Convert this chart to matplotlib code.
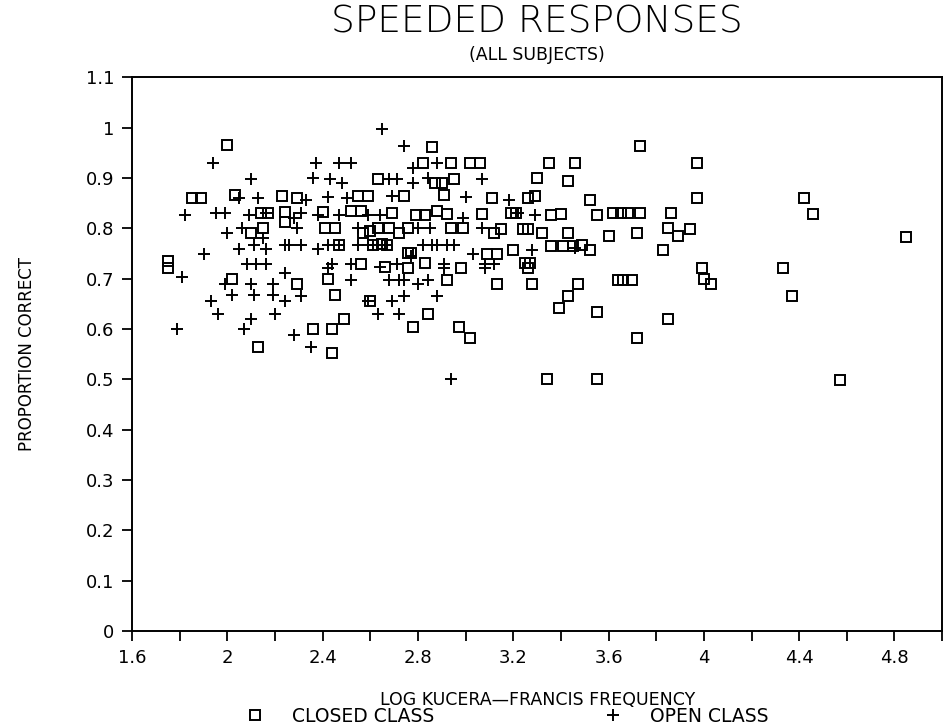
"""
Speeded responses: proportion correct vs log Kucera-Francis frequency.
"""

import matplotlib
matplotlib.use("Agg")
import matplotlib.pyplot as plt
from matplotlib.ticker import MultipleLocator, FuncFormatter

# closed class words (squares)
closed_x = [
    2.00, 1.85, 1.89, 2.03, 2.23, 2.29, 2.14, 2.17, 2.24, 2.24, 2.15, 2.10,
    1.75, 1.75, 2.02, 2.29, 2.36, 2.13,
    2.86, 2.82, 2.94, 3.02, 3.06, 2.63, 2.87, 2.90, 2.95, 2.55, 2.59, 2.74,
    2.91, 3.11, 2.40, 2.52, 2.56, 2.69, 2.79, 2.83, 2.88, 2.92, 3.07, 2.41,
    2.45, 2.57, 2.63, 2.68, 2.76, 2.94, 2.99, 3.12, 2.47, 2.61, 2.65, 2.67,
    2.76, 2.77, 3.09, 3.13, 2.56, 2.66, 2.76, 2.83, 2.98, 2.42, 2.92, 3.13,
    2.45, 2.60, 2.84, 2.49, 2.44, 2.78, 2.97, 3.02, 2.44, 2.60, 2.72,
    3.73, 3.35, 3.46, 3.30, 3.43, 3.26, 3.29, 3.52, 3.19, 3.21, 3.36, 3.40,
    3.55, 3.62, 3.65, 3.68, 3.73, 3.86, 3.15, 3.24, 3.26, 3.32, 3.43, 3.60,
    3.72, 3.20, 3.36, 3.41, 3.45, 3.49, 3.52, 3.83, 3.25, 3.27, 3.26, 3.28,
    3.47, 3.64, 3.66, 3.70, 3.43, 3.39, 3.55, 3.72, 3.34, 3.55,
    3.97, 3.97, 4.42, 4.46, 3.85, 3.89, 3.94, 4.85, 3.99, 4.00, 4.03, 4.33,
    4.37, 3.85, 4.57,
]
closed_y = [
    0.966, 0.861, 0.861, 0.867, 0.865, 0.861, 0.831, 0.831, 0.833, 0.813, 0.800, 0.790,
    0.722, 0.735, 0.700, 0.690, 0.599, 0.565,
    0.962, 0.930, 0.929, 0.929, 0.929, 0.897, 0.890, 0.889, 0.897, 0.865, 0.865, 0.865,
    0.867, 0.861, 0.833, 0.835, 0.835, 0.831, 0.827, 0.827, 0.835, 0.829, 0.829, 0.800,
    0.800, 0.790, 0.800, 0.800, 0.800, 0.800, 0.800, 0.790, 0.766, 0.766, 0.768, 0.766,
    0.750, 0.750, 0.748, 0.748, 0.730, 0.724, 0.722, 0.732, 0.722, 0.700, 0.698, 0.690,
    0.667, 0.655, 0.630, 0.619, 0.599, 0.603, 0.603, 0.583, 0.552, 0.795, 0.790,
    0.964, 0.929, 0.929, 0.899, 0.893, 0.861, 0.865, 0.857, 0.831, 0.831, 0.826, 0.829,
    0.827, 0.831, 0.831, 0.831, 0.831, 0.831, 0.798, 0.798, 0.798, 0.790, 0.790, 0.784,
    0.790, 0.756, 0.764, 0.764, 0.764, 0.766, 0.756, 0.756, 0.732, 0.732, 0.722, 0.690,
    0.690, 0.698, 0.698, 0.698, 0.665, 0.641, 0.633, 0.583, 0.500, 0.500,
    0.929, 0.861, 0.861, 0.829, 0.800, 0.784, 0.798, 0.782, 0.722, 0.700, 0.690, 0.722,
    0.665, 0.619, 0.498,
]

# open class words (plus signs)
open_x = [
    1.94, 2.37, 2.10, 2.36, 2.05, 2.13, 2.33, 1.82, 1.95, 1.99, 2.09, 2.16,
    2.28, 2.31, 2.38, 2.00, 2.06, 2.15, 2.29, 1.90, 2.05, 2.11, 2.16, 2.24,
    2.26, 2.31, 2.38, 1.81, 2.08, 2.12, 2.16, 2.24, 1.99, 2.10, 2.19, 1.93,
    1.96, 2.02, 2.11, 2.19, 2.24, 2.31, 2.20, 2.10, 1.79, 2.07, 2.28, 2.35,
    2.65, 2.74, 2.47, 2.52, 2.78, 2.88, 2.43, 2.48, 2.68, 2.71, 2.78, 2.84,
    3.07, 2.42, 2.50, 2.69, 3.00, 2.47, 2.59, 2.64, 2.99, 2.55, 2.80, 2.85,
    3.07, 2.42, 2.47, 2.55, 2.59, 2.61, 2.66, 2.82, 2.86, 2.88, 2.92, 2.95,
    2.77, 3.03, 3.08, 2.44, 2.42, 2.52, 2.64, 2.71, 2.91, 2.91, 2.52, 2.68,
    2.72, 2.74, 2.80, 2.84, 2.59, 2.63, 2.69, 2.74, 2.72, 2.88, 2.94,
    3.18, 3.22, 3.29, 3.28, 3.46, 3.08, 3.12,
]
open_y = [
    0.929, 0.929, 0.897, 0.899, 0.861, 0.861, 0.857, 0.827, 0.831, 0.831, 0.827, 0.831,
    0.820, 0.831, 0.827, 0.790, 0.800, 0.780, 0.800, 0.748, 0.758, 0.766, 0.758, 0.766,
    0.766, 0.766, 0.758, 0.703, 0.730, 0.730, 0.730, 0.712, 0.690, 0.690, 0.690, 0.655,
    0.630, 0.667, 0.667, 0.667, 0.655, 0.665, 0.630, 0.619, 0.599, 0.599, 0.589, 0.565,
    0.998, 0.964, 0.929, 0.929, 0.919, 0.930, 0.897, 0.889, 0.897, 0.897, 0.890, 0.899,
    0.897, 0.863, 0.861, 0.865, 0.863, 0.827, 0.827, 0.827, 0.820, 0.800, 0.800, 0.800,
    0.800, 0.766, 0.766, 0.766, 0.766, 0.766, 0.766, 0.766, 0.766, 0.766, 0.766, 0.766,
    0.745, 0.748, 0.730, 0.730, 0.722, 0.730, 0.724, 0.730, 0.730, 0.722, 0.698, 0.698,
    0.698, 0.698, 0.690, 0.698, 0.655, 0.630, 0.655, 0.665, 0.630, 0.665, 0.500,
    0.857, 0.831, 0.826, 0.756, 0.760, 0.722, 0.730,
]

plt.rcParams["font.family"] = ["DejaVu Sans"]

fig = plt.figure(figsize=(9.44, 7.28), dpi=100)
ax = fig.add_axes([0.140, 0.133, 0.858, 0.761])

sq, = ax.plot(closed_x, closed_y, ls="none", marker="s", ms=7, mfc="none",
              mec="black", mew=1.4, label="CLOSED CLASS")
pl, = ax.plot(open_x, open_y, ls="none", marker="+", ms=9, color="black",
              mew=1.4, label="OPEN CLASS")

ax.set_xlim(1.6, 5.0)
ax.set_ylim(0, 1.1)
ax.xaxis.set_major_locator(MultipleLocator(0.4))
ax.xaxis.set_minor_locator(MultipleLocator(0.2))
ax.yaxis.set_major_locator(MultipleLocator(0.1))
fmt = FuncFormatter(lambda v, p: "%g" % round(v, 2))
ax.xaxis.set_major_formatter(fmt)
ax.yaxis.set_major_formatter(fmt)
ax.tick_params(axis="both", which="both", direction="out", width=1.3,
               labelsize=13, colors="black")
ax.tick_params(axis="both", which="major", length=7, pad=6)
ax.tick_params(axis="x", which="minor", length=7)
for s in ax.spines.values():
    s.set_linewidth(1.4)

ax.set_ylabel("PROPORTION CORRECT", fontsize=12, labelpad=36)
ax.set_xlabel("LOG KUCERA\u2014FRANCIS FREQUENCY", fontsize=12.5, labelpad=17)

fig.text(0.569, 0.97, "SPEEDED RESPONSES", ha="center", va="center",
         fontsize=27, fontweight="light")
fig.text(0.569, 0.925, "(ALL SUBJECTS)", ha="center", va="center",
         fontsize=12.5)

fig.legend(handles=[sq, pl], loc="center", bbox_to_anchor=(0.532, 0.016),
           ncol=2, frameon=False, fontsize=13.5, columnspacing=8.5,
           handletextpad=1.0, borderaxespad=0)

fig.savefig("out.png", dpi=100)
